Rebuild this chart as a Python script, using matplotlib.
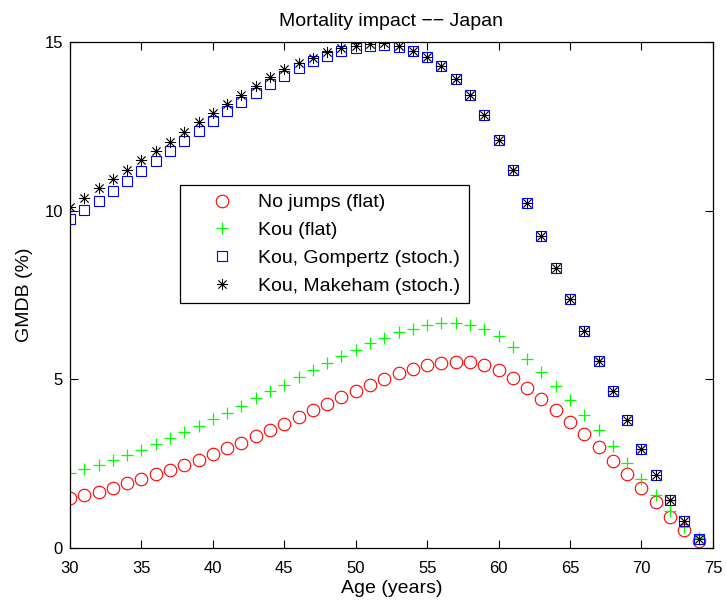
import numpy as np
import matplotlib
matplotlib.use('Agg')
import matplotlib.pyplot as plt

plt.rcParams['font.family'] = ['Liberation Sans', 'DejaVu Sans']
plt.rcParams['font.size'] = 12

# Ages 30..74
age = np.arange(30, 75)

no_jumps = [1.47, 1.58, 1.67, 1.79, 1.92, 2.05, 2.18, 2.32, 2.47, 2.62,
            2.78, 2.96, 3.12, 3.31, 3.50, 3.69, 3.88, 4.08, 4.28, 4.47,
            4.66, 4.83, 5.01, 5.18, 5.31, 5.42, 5.49, 5.52, 5.51, 5.43,
            5.28, 5.05, 4.74, 4.43, 4.09, 3.74, 3.37, 2.99, 2.59, 2.20,
            1.78, 1.36, 0.93, 0.54, 0.22]

kou_flat = [2.22, 2.33, 2.47, 2.60, 2.77, 2.92, 3.09, 3.27, 3.44, 3.63,
            3.83, 4.01, 4.22, 4.44, 4.64, 4.84, 5.07, 5.28, 5.49, 5.69,
            5.88, 6.07, 6.24, 6.39, 6.50, 6.61, 6.66, 6.66, 6.60, 6.48,
            6.27, 5.96, 5.60, 5.22, 4.80, 4.39, 3.93, 3.49, 3.03, 2.53,
            2.05, 1.57, 1.11, 0.62, 0.30]

kou_gompertz = [9.74, 10.01, 10.30, 10.58, 10.88, 11.18, 11.48, 11.76, 12.06, 12.37,
                12.65, 12.94, 13.21, 13.50, 13.76, 14.00, 14.23, 14.43, 14.59, 14.72,
                14.82, 14.88, 14.90, 14.84, 14.73, 14.56, 14.29, 13.91, 13.42, 12.83,
                12.10, 11.21, 10.22, 9.25, 8.30, 7.37, 6.43, 5.53, 4.64, 3.78,
                2.94, 2.16, 1.43, 0.79, 0.28]

kou_makeham = [10.11, 10.38, 10.66, 10.93, 11.21, 11.49, 11.78, 12.05, 12.33, 12.62,
               12.90, 13.17, 13.44, 13.71, 13.95, 14.19, 14.38, 14.54, 14.69, 14.81,
               14.88, 14.94, 14.96, 14.87, 14.74, 14.56, 14.29, 13.91, 13.42, 12.83,
               12.10, 11.21, 10.22, 9.25, 8.30, 7.37, 6.43, 5.53, 4.64, 3.78,
               2.94, 2.16, 1.43, 0.79, 0.28]

labels = ['No jumps (flat)', 'Kou (flat)', 'Kou, Gompertz (stoch.)', 'Kou, Makeham (stoch.)']

fig = plt.figure(figsize=(7.26, 6.05), dpi=100)
ax = fig.add_axes([0.0964, 0.0942, 0.8856, 0.8364])

ax.plot(age, no_jumps, 'o', mfc='none', mec='red', ms=9, mew=0.8, label=labels[0])
ax.plot(age, kou_flat, '+', color=(0, 1, 0), ms=8, mew=0.9, label=labels[1])
ax.plot(age, kou_gompertz, 's', mfc='none', mec='blue', ms=7, mew=0.8, label=labels[2])
# matlab-like asterisk (8 arms)
ax.plot(age, kou_makeham, marker=(8, 2, 0), ls='none', color='black', ms=8, mew=0.6,
        label=labels[3])

ax.set_xlim(30, 75)
ax.set_ylim(0, 15)
ax.set_xticks(range(30, 76, 5))
ax.set_yticks([0, 5, 10, 15])
ax.tick_params(direction='in', length=6, width=0.8, top=True, right=True, labelsize=12)
ax.tick_params(axis='x', pad=9)
ax.tick_params(axis='y', pad=5)
for s in ax.spines.values():
    s.set_linewidth(0.9)

ax.set_title('Mortality impact \u2212\u2212 Japan', fontsize=14, pad=11.5)
ax.set_xlabel('Age (years)', fontsize=14, labelpad=3)
ax.set_ylabel('GMDB (%)', fontsize=14, labelpad=8)

leg = ax.legend(loc='upper left', bbox_to_anchor=(180 / 726, 1 - 185 / 605),
                bbox_transform=fig.transFigure, borderaxespad=0, fancybox=False,
                edgecolor='black', framealpha=1, fontsize=14, handlelength=3.4,
                handletextpad=0.15, borderpad=0.45, labelspacing=0.52)
leg.get_frame().set_linewidth(0.9)

fig.savefig('out.png', dpi=100)
